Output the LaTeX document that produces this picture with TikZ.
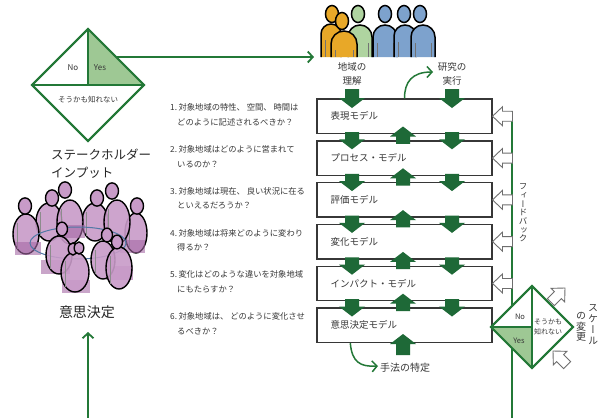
\documentclass[tikz,border=0pt]{standalone}
\usepackage{fontspec}
\setmainfont{Noto Sans CJK JP}
\newfontfamily\jpvert[RawFeature=+vert]{Noto Sans CJK JP}
\usetikzlibrary{arrows.meta,shapes.geometric,calc}

\definecolor{lineGreen}{RGB}{35,120,55}
\definecolor{blockGreen}{RGB}{30,105,55}
\definecolor{paleGreen}{RGB}{158,200,148}
\definecolor{boxLine}{RGB}{55,55,55}
\definecolor{textGray}{RGB}{55,55,55}
\definecolor{hollowLine}{RGB}{110,110,110}
\definecolor{pOrange}{RGB}{232,168,40}
\definecolor{pGreen}{RGB}{175,212,160}
\definecolor{pBlue}{RGB}{125,162,205}
\definecolor{pPurple}{RGB}{200,155,200}
\definecolor{seatPurple}{RGB}{165,105,165}
\definecolor{ringBlue}{RGB}{80,120,165}

\tikzset{
  greenline/.style={draw=lineGreen, line width=1.8pt},
  gtip/.style={-{Straight Barb[length=5pt,width=11pt]}},
  decision/.style={diamond, aspect=1, draw=lineGreen, line width=1.8pt,
    inner sep=0pt, outer sep=0pt},
  modelbox/.style={draw=boxLine, line width=1.4pt, fill=white,
    minimum width=175pt, minimum height=34.5pt, inner sep=0pt},
  modellabel/.style={font=\fontsize{9.5}{11}\selectfont, text=textGray,
    anchor=west, inner sep=0pt},
  qtext/.style={font=\fontsize{8.3}{14.5}\selectfont, text=textGray,
    align=left, anchor=west, inner sep=0pt},
  smalltext/.style={font=\fontsize{7.5}{10}\selectfont, text=textGray,
    align=center, inner sep=0pt},
  toplabel/.style={font=\fontsize{9.5}{14}\selectfont, text=textGray,
    align=center, inner sep=0pt},
  vtext/.style={align=center, inner sep=0pt, text=textGray},
}

% filled block arrow pointing down: x, top y, tip y
\newcommand{\blockdown}[3]{%
  \fill[blockGreen] ({#1-7},{#2}) -- ({#1+7},{#2}) -- ({#1+7},{#3-10})
    -- ({#1+13},{#3-10}) -- ({#1},{#3}) -- ({#1-13},{#3-10})
    -- ({#1-7},{#3-10}) -- cycle;}
% filled block arrow pointing up: x, bottom y, tip y
\newcommand{\blockup}[3]{%
  \fill[blockGreen] ({#1-7},{#2}) -- ({#1+7},{#2}) -- ({#1+7},{#3+10})
    -- ({#1+13},{#3+10}) -- ({#1},{#3}) -- ({#1-13},{#3+10})
    -- ({#1-7},{#3+10}) -- cycle;}
% outlined arrow, tip at (x,y), pointing left before rotation
\newcommand{\hollowarrow}[3]{%
  \begin{scope}[shift={({#1},{#2})}, rotate=#3]
    \draw[hollowLine, fill=white, line width=0.9pt, line join=miter]
      (0,0) -- (10,-9.5) -- (10,-5) -- (20,-5) -- (20,5) -- (10,5)
      -- (10,9.5) -- cycle;
  \end{scope}}
% standing figure: body x, body top, half width, head x, head y, colour
\newcommand{\standing}[6]{%
  \filldraw[fill=#6, draw=black, line width=1.5pt]
    ({#1-#3},57) -- ({#1-#3},{#2+#3})
    arc[start angle=180, end angle=360, x radius=#3, y radius=#3]
    -- ({#1+#3},57);
  \draw[black!55, line width=0.5pt]
    ({#1-#3+4},{#2+#3+6}) -- ({#1-#3+4},57)
    ({#1+#3-4},{#2+#3+6}) -- ({#1+#3-4},57);
  \filldraw[fill=#6, draw=black, line width=1.5pt]
    (#4,#5) ellipse[x radius=6.5, y radius=8.5];}
% seated figure: body cx, cy, rx, ry, head x, head y, head radius
\newcommand{\sitter}[7]{%
  \filldraw[fill=pPurple, fill opacity=0.9, draw=black, line width=1.4pt]
    (#1,#2) ellipse[x radius=#3, y radius=#4];
  \draw[black!45, line width=0.4pt]
    ({#1-#3+4},{#2-#4+9}) -- ({#1-#3+4},{#2+#4-5});
  \filldraw[fill=pPurple, draw=black, line width=1.4pt]
    (#5,#6) ellipse[x radius=#7, y radius={1.25*#7}];}

\begin{document}
\begin{tikzpicture}[x=1pt,y=-1pt]
\useasboundingbox (0,0) rectangle (606,418);
\fill[white] (0,0) rectangle (606,418);

% ---------- stakeholder decision diamond ----------
\node[decision, fill=white, minimum width=112pt, minimum height=112pt] (dL) at (88,85) {};
\fill[paleGreen] (dL.north) -- (dL.center) -- (dL.east) -- cycle;
\draw[greenline] (dL.north) -- (dL.center) (dL.west) -- (dL.east);
\node[decision, minimum width=112pt, minimum height=112pt] at (dL.center) {};
\node[smalltext, font=\fontsize{8}{10}\selectfont] (dLno) at (73,68) {No};
\node[smalltext, font=\fontsize{8}{10}\selectfont] (dLyes) at (100,68) {Yes};
\node[smalltext] (dLmaybe) at (88,100) {そうかも知れない};

\node[anchor=west, align=left, inner sep=0pt, text=black!85,
  font=\fontsize{12.5}{18}\selectfont] (stake) at (51,164) {ステークホルダー\\インプット};

% ---------- community crowd (top) ----------
\standing{331}{24}{10}{332}{14}{pOrange}
\standing{360}{25}{12}{358}{14}{pGreen}
\standing{344}{31}{13}{342}{21}{pOrange}
\standing{385}{25}{12}{385}{14}{pBlue}
\standing{405}{25}{11}{404}{14}{pBlue}
\standing{423}{25}{12}{420}{14}{pBlue}
\coordinate (crowdin) at (314,57);
\draw[greenline, gtip] ($(dL.north)!0.5!(dL.east)$) -- (crowdin);

\node[toplabel] (understand) at (352,74) {地域の\\理解};
\node[toplabel] (research) at (452,74) {研究の\\実行};

% ---------- decision-making group ----------
\sitter{49}{222}{13}{19}{52}{198}{6.5}
\sitter{95}{222}{13}{19}{97}{198}{6.5}
\sitter{26}{234}{13}{20}{25}{206}{6.5}
\sitter{136}{233}{11}{20}{137}{206}{6.5}
\sitter{70}{222}{13}{22}{65}{190}{6.5}
\sitter{117}{222}{13}{22}{112}{191}{6.5}
\fill[seatPurple, opacity=0.6] (15,242) rectangle (41,255);
\fill[seatPurple, opacity=0.6] (58,225) rectangle (85,238);
\fill[seatPurple, opacity=0.6] (120,240) rectangle (145,253);
\fill[seatPurple, opacity=0.6] (41,260) rectangle (70,274);
\fill[seatPurple, opacity=0.6] (62,280) rectangle (90,293);
\fill[seatPurple, opacity=0.6] (106,266) rectangle (133,280);
\draw[ringBlue, line width=1pt] (78,243) ellipse[x radius=48, y radius=16];
\sitter{59}{255}{13}{19}{62}{229}{5.5}
\sitter{103}{260}{12}{19}{107}{235}{5.5}
\sitter{75}{272}{14}{20}{73}{249}{4.8}
\filldraw[fill=pPurple, draw=black, line width=1.4pt] (79,248) ellipse[x radius=4.8, y radius=6];
\sitter{119}{268}{13}{21}{117}{242}{5.5}

\node[inner sep=0pt, text=black!85, font=\fontsize{14}{16}\selectfont] (decide) at (87,312) {意思決定};

% ---------- model chain ----------
\foreach \i/\lab in {1/表現モデル,2/プロセス・モデル,3/評価モデル,4/変化モデル,5/インパクト・モデル,6/意思決定モデル}{
  \node[modelbox] (m\i) at (404.5,{116.25+41.8*(\i-1)}) {};
  \node[modellabel] (ml\i) at ($(m\i.west)+(14,0)$) {\lab};
}

\blockdown{352}{89}{108}
\blockdown{452}{89}{108}
\foreach \i in {1,...,5}{
  \pgfmathsetmacro\boxbot{99+41.8*(\i-1)+34.5}
  \pgfmathsetmacro\nexttop{99+41.8*\i}
  \blockdown{352}{\boxbot-1.5}{\nexttop+8.5}
  \blockdown{452}{\boxbot-1.5}{\nexttop+8.5}
  \blockup{403}{\nexttop+3}{\boxbot-7}
}
\blockup{403}{355}{334}

% ---------- guiding questions ----------
\node[qtext] (q1) at (170,114.75) {1.\hspace{1.5pt}対象地域の特性、 空間、 時間は\\\hspace*{7pt}どのように記述されるべきか？};
\node[qtext] (q2) at (170,156.55) {2.\hspace{1.5pt}対象地域はどのように営まれて\\\hspace*{7pt}いるのか？};
\node[qtext] (q3) at (170,198.35) {3.\hspace{1.5pt}対象地域は現在、 良い状況に在る\\\hspace*{7pt}といえるだろうか？};
\node[qtext] (q4) at (170,240.15) {4.\hspace{1.5pt}対象地域は将来どのように変わり\\\hspace*{7pt}得るか？};
\node[qtext] (q5) at (170,281.95) {5.\hspace{1.5pt}変化はどのような違いを対象地域\\\hspace*{7pt}にもたらすか？};
\node[qtext] (q6) at (170,323.75) {6.\hspace{1.5pt}対象地域は、 どのように変化させ\\\hspace*{7pt}るべきか？};

% ---------- research / method arrows ----------
\coordinate (resEnd) at (433,72);
\draw[greenline, line width=1.5pt, gtip] (m1.north) .. controls (404.5,82) and (412,72) .. (resEnd);
\coordinate (methEnd) at (378,366);
\draw[greenline, line width=1.5pt, gtip] ($(m6.south west)+(34,0)$) .. controls (352,362) and (360,367) .. (methEnd);
\node[anchor=west, inner sep=0pt, text=textGray, font=\fontsize{10}{12}\selectfont] (method) at (380,368) {手法の特定};

% ---------- feedback loop ----------
\coordinate (fbtop) at (512,111);
\coordinate (fbturnA) at (512,440);
\coordinate (fbturnB) at (88,440);
\coordinate (decin) at (88,332);
\draw[greenline, gtip] (fbtop) -- (fbturnA) -- (fbturnB) -- (decin);
\foreach \i in {1,...,5}{
  \hollowarrow{492.5}{116.25+41.8*(\i-1)}{0}
}
\node[vtext, font=\jpvert\fontsize{8.5}{8.7}\selectfont] (feedback) at (523,213) {フ\\ィ\\ー\\ド\\バ\\ッ\\ク};

% ---------- scale decision diamond ----------
\node[decision, fill=white, minimum width=82pt, minimum height=82pt] (dR) at (532,327) {};
\fill[paleGreen] (dR.west) -- (dR.center) -- (dR.south) -- cycle;
\draw[greenline] (dR.north) -- (dR.south) (dR.west) -- (dR.center);
\node[decision, minimum width=82pt, minimum height=82pt] at (dR.center) {};
\node[smalltext, font=\fontsize{7.5}{10}\selectfont] (dRno) at (520,317) {No};
\node[smalltext, font=\fontsize{7.5}{10}\selectfont] (dRyes) at (519,341) {Yes};
\node[smalltext, font=\fontsize{7}{10.5}\selectfont] (dRmaybe) at (548,327) {そうかも\\知れない};
\hollowarrow{565}{288}{-135}
\hollowarrow{553}{351}{-45}
\node[vtext, font=\jpvert\fontsize{10}{11}\selectfont] (scaleA) at (593,325) {ス\\ケ\\ー\\ル};
\node[vtext, font=\jpvert\fontsize{10}{10.5}\selectfont] (scaleB) at (581,327) {の\\変\\更};
\end{tikzpicture}
\end{document}
